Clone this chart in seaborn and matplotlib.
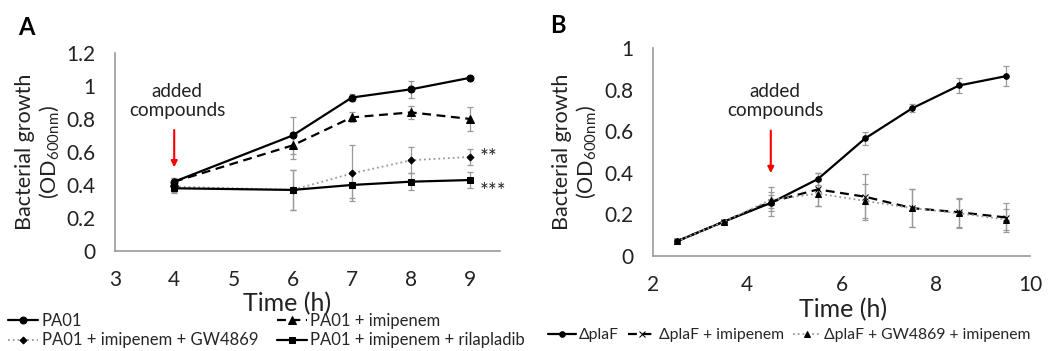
import pandas as pd
import matplotlib
matplotlib.use('Agg')
import matplotlib.pyplot as plt
import seaborn as sns

# panel A - PA01
TIME_A = [4, 6, 7, 8, 9]
PA01 = [0.42, 0.70, 0.93, 0.98, 1.05]
PA01_ERR = [0.02, 0.11, 0.02, 0.05, 0.01]
PA01_IMI = [0.42, 0.64, 0.81, 0.84, 0.80]
PA01_IMI_ERR = [0.02, 0.08, 0.03, 0.04, 0.07]
PA01_GW = [0.39, 0.37, 0.47, 0.55, 0.57]
PA01_GW_ERR = [0.03, 0.12, 0.17, 0.08, 0.05]
PA01_RILA = [0.38, 0.37, 0.40, 0.42, 0.43]
PA01_RILA_ERR = [0.03, 0.12, 0.08, 0.05, 0.05]

# panel B - deltaplaF
TIME_B = [2.5, 3.5, 4.5, 5.5, 6.5, 7.5, 8.5, 9.5]
PLAF = [0.07, 0.165, 0.255, 0.37, 0.565, 0.71, 0.82, 0.865]
PLAF_ERR = [0.005, 0.01, 0.04, 0.03, 0.03, 0.02, 0.035, 0.05]
PLAF_IMI = [0.07, 0.165, 0.26, 0.32, 0.285, 0.23, 0.21, 0.185]
PLAF_IMI_ERR = [0.005, 0.01, 0.07, 0.08, 0.11, 0.09, 0.07, 0.07]
PLAF_GW = [0.07, 0.165, 0.27, 0.30, 0.265, 0.23, 0.205, 0.175]
PLAF_GW_ERR = [0.005, 0.01, 0.04, 0.06, 0.08, 0.09, 0.07, 0.05]

sns.set_style('white')
plt.rcParams['font.family'] = ['Lato', 'DejaVu Sans']
plt.rcParams['mathtext.default'] = 'regular'

GREY = '#9a9a9a'
TXT = '#222222'


def serie(ax, x, y, err, label, color, ls, marker, ms, lw=1.6):
    df = pd.DataFrame({'t': x, 'od': y, 'err': err})
    ax.errorbar(df['t'], df['od'], yerr=df['err'], fmt='none', ecolor='#999999',
                elinewidth=0.9, capsize=2.5, capthick=0.9, zorder=1)
    sns.lineplot(data=df, x='t', y='od', ax=ax, color=color, linestyle=ls,
                 marker=marker, markersize=ms, markeredgecolor='black',
                 markerfacecolor='black', linewidth=lw, label=label,
                 errorbar=None, zorder=3)


def style_axes(ax):
    sns.despine(ax=ax)
    for s in ['left', 'bottom']:
        ax.spines[s].set_color(GREY)
        ax.spines[s].set_linewidth(1.2)
    ax.tick_params(axis='both', colors=GREY, labelcolor=TXT, labelsize=15,
                   length=4, width=1.0, direction='out', pad=10)
    ax.set_ylabel('Bacterial growth\n(OD$_{600nm}$)', fontsize=15.5, color=TXT,
                  linespacing=1.15)
    ax.grid(False)


fig = plt.figure(figsize=(10.51, 3.51), dpi=100)
axA = fig.add_axes([0.1094, 0.285, 0.3663, 0.564])
axB = fig.add_axes([0.6213, 0.2707, 0.3587, 0.5926])

serie(axA, TIME_A, PA01, PA01_ERR, 'PA01', 'black', '-', 'o', 5)
serie(axA, TIME_A, PA01_IMI, PA01_IMI_ERR, 'PA01 + imipenem', 'black', (0, (4, 2.5)), '^', 5.5)
serie(axA, TIME_A, PA01_GW, PA01_GW_ERR, 'PA01 + imipenem + GW4869', '#9a9a9a', ':', 'D', 3.5, lw=1.3)
serie(axA, TIME_A, PA01_RILA, PA01_RILA_ERR, 'PA01 + imipenem + rilapladib', 'black', '-', 's', 5)

axA.set_xlim(3, 9.5)
axA.set_ylim(0, 1.2)
axA.set_xticks([3, 4, 5, 6, 7, 8, 9])
axA.set_yticks([0, 0.2, 0.4, 0.6, 0.8, 1.0, 1.2])
axA.set_yticklabels(['0', '0.2', '0.4', '0.6', '0.8', '1', '1.2'])
style_axes(axA)
axA.set_xlabel('Time (h)', fontsize=18, color=TXT)
axA.xaxis.set_label_coords(0.447, -0.205)
axA.yaxis.set_label_coords(-0.14, 0.5)

axA.annotate('', xy=(4, 0.49), xytext=(4, 0.75),
             arrowprops=dict(arrowstyle='-|>', color='red', lw=1.5, mutation_scale=9))
axA.text(4.05, 0.91, 'added\ncompounds', ha='center', va='center', fontsize=13.6,
         color=TXT, linespacing=1.1)
axA.text(9.15, 0.565, '**', ha='left', va='center', fontsize=15, color=TXT)
axA.text(9.15, 0.355, '***', ha='left', va='center', fontsize=15, color=TXT)

h, l = axA.get_legend_handles_labels()
order = [0, 2, 1, 3]
axA.legend([h[i] for i in order], [l[i] for i in order], ncol=2, frameon=False,
           loc='upper left', bbox_to_anchor=(0.008, 0.108), bbox_transform=fig.transFigure,
           fontsize=12, handlelength=1.8, handletextpad=0.2, columnspacing=1.1,
           labelspacing=0.2, borderaxespad=0, borderpad=0)

serie(axB, TIME_B, PLAF, PLAF_ERR, 'ΔplaF', 'black', '-', 'o', 4)
serie(axB, TIME_B, PLAF_IMI, PLAF_IMI_ERR, 'ΔplaF + imipenem', 'black', (0, (4, 2.5)), 'x', 4.5)
serie(axB, TIME_B, PLAF_GW, PLAF_GW_ERR, 'ΔplaF + GW4869 + imipenem', '#9a9a9a', ':', '^', 4, lw=1.3)

axB.set_xlim(2, 10)
axB.set_ylim(0, 1)
axB.set_xticks([2, 4, 6, 8, 10])
axB.set_yticks([0, 0.2, 0.4, 0.6, 0.8, 1.0])
axB.set_yticklabels(['0', '0.2', '0.4', '0.6', '0.8', '1'])
style_axes(axB)
axB.set_xlabel('Time (h)', fontsize=18, color=TXT)
axB.xaxis.set_label_coords(0.504, -0.2)
axB.yaxis.set_label_coords(-0.145, 0.5)

axB.annotate('', xy=(4.5, 0.385), xytext=(4.5, 0.616),
             arrowprops=dict(arrowstyle='-|>', color='red', lw=1.5, mutation_scale=9))
axB.text(4.59, 0.746, 'added\ncompounds', ha='center', va='center', fontsize=13.6,
         color=TXT, linespacing=1.1)

axB.legend(ncol=3, frameon=False, loc='center left', bbox_to_anchor=(0.521, 0.045),
           bbox_transform=fig.transFigure, fontsize=11.3, handlelength=1.8,
           handletextpad=0.2, columnspacing=0.55, borderaxespad=0, borderpad=0)

fig.text(0.017, 0.923, 'A', fontsize=17, fontweight='bold', color='black', va='center')
fig.text(0.523, 0.928, 'B', fontsize=17, fontweight='bold', color='black', va='center')

fig.savefig('out.png', dpi=100)
plt.close(fig)
